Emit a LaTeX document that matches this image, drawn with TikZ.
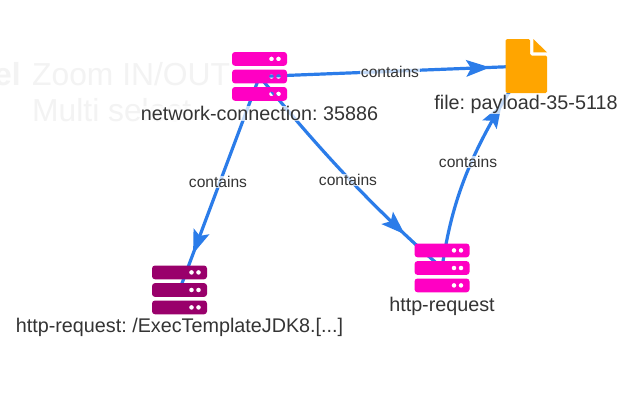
\documentclass[tikz,border=0pt]{standalone}
\usepackage{fontspec}
\setmainfont{Liberation Sans}
\usetikzlibrary{arrows.meta,decorations.markings}
\definecolor{edgeblue}{HTML}{2B7CE9}
\definecolor{hotpink}{HTML}{FF00C3}
\definecolor{plum}{HTML}{99006B}
\definecolor{fileorange}{HTML}{FFA500}
\definecolor{inktext}{HTML}{343434}
\definecolor{faint}{HTML}{F3F3F3}
\tikzset{
  anchorpt/.style={inner sep=0pt,minimum size=0pt,outer sep=0pt},
  edgeline/.style={draw=edgeblue,line width=3.2pt,postaction={decorate},
    decoration={markings,mark=at position #1 with {\arrow[edgeblue,line width=0pt]{Stealth[length=24pt,width=17pt,inset=5pt]}}}},
  edgelabel/.style={font=\fontsize{15.6}{18}\selectfont\frenchspacing,text=inktext,fill=white,fill opacity=0.72,text opacity=1,inner sep=0.5pt},
  nodelabel/.style={font=\fontsize{19.76}{23}\selectfont\frenchspacing,text=inktext,fill=white,fill opacity=0.72,text opacity=1,inner sep=0.5pt},
  hinttext/.style={font=\fontsize{31.8}{36}\selectfont,text=faint,anchor=base west,inner sep=0pt},
  pics/serverstack/.style={code={
    \fill[#1,even odd rule]
      \foreach \yc in {-17.6,0,17.4}{
        [rounded corners=3pt] (-27.5,\yc-6.9) rectangle (27.5,\yc+6.9)
        [sharp corners] (12,\yc) circle[radius=2.4] (19,\yc) circle[radius=2.4]
      };
  }}
}
\begin{document}
\begin{tikzpicture}[x=1pt,y=-1pt]
\useasboundingbox (0,0) rectangle (636,400);
\fill[white] (0,0) rectangle (636,400);
% faint help text behind the graph
\node[hinttext,font=\fontsize{31.8}{36}\bfseries\selectfont] (hintA) at (-6,85) {el};
\node[hinttext] (hintB) at (32,85) {Zoom IN/OUT};
\node[hinttext] (hintC) at (32,121) {Multi select};
% node anchors
\node[anchorpt] (net) at (259.5,76.5) {};
\node[anchorpt] (file) at (526,66) {};
\node[anchorpt] (req) at (442,268) {};
\node[anchorpt] (exec) at (179.5,290) {};
% connectors
\draw[edgeline=0.865] (net.center) -- (file.center);
\draw[edgeline=0.83] (net.center) -- (exec.center);
\draw[edgeline=0.81] (net.center) .. controls (320,150) and (370,205) .. (req.center);
\draw[edgeline=0.795] (req.center) .. controls (452,200) and (470,150) .. (file.center);
% icons
\pic at (net.center) {serverstack=hotpink};
\pic at (req.center) {serverstack=hotpink};
\pic at (exec.center) {serverstack=plum};
\fill[fileorange,rounded corners=1.5pt] (505.7,39) -- (530,39) -- (530,55.5) -- (547,55.5) -- (547,93) -- (505.7,93) -- cycle;
\fill[fileorange] (533.3,39) -- (547,52.3) -- (533.3,52.3) -- cycle;
% labels
\node[edgelabel] (l1) at (390,72) {contains};
\node[edgelabel] (l2) at (218,182) {contains};
\node[edgelabel] (l3) at (348,180) {contains};
\node[edgelabel] (l4) at (468,162) {contains};
\node[nodelabel] (t1) at (259.5,113.5) {network-connection: 35886};
\node[nodelabel] (t2) at (526,104) {file: payload-35-5118};
\node[nodelabel] (t3) at (442,306) {http-request};
\node[nodelabel] (t4) at (179.5,327.5) {http-request: /ExecTemplateJDK8.[...]};
\end{tikzpicture}
\end{document}
